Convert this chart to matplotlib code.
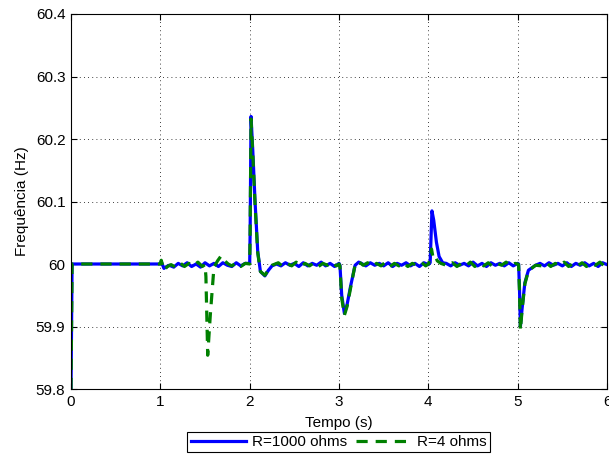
import matplotlib.pyplot as plt

plt.rcParams['font.family'] = ['Liberation Sans', 'DejaVu Sans']
plt.rcParams['font.size'] = 11

# R = 1000 ohms (blue, solid)
t_r1000 = [0.000, 0.012, 1.000, 1.010, 1.040, 1.070,
           1.10, 1.15, 1.20, 1.25, 1.30, 1.35, 1.40, 1.45, 1.50, 1.55,
           1.60, 1.65, 1.70, 1.75, 1.80, 1.85, 1.90, 1.95, 2.000,
           2.005, 2.015, 2.035, 2.060, 2.090, 2.120, 2.170, 2.210, 2.250,
           2.30, 2.35, 2.40, 2.45, 2.50, 2.55, 2.60, 2.65, 2.70, 2.75,
           2.80, 2.85, 2.90, 2.95, 3.00,
           3.010, 3.030, 3.060, 3.090, 3.130, 3.180, 3.220,
           3.25, 3.30, 3.35, 3.40, 3.45, 3.50, 3.55, 3.60, 3.65, 3.70,
           3.75, 3.80, 3.85, 3.90, 3.95, 4.00,
           4.020, 4.040, 4.060, 4.090, 4.120, 4.160,
           4.20, 4.25, 4.30, 4.35, 4.40, 4.45, 4.50, 4.55, 4.60, 4.65,
           4.70, 4.75, 4.80, 4.85, 4.90, 4.95, 5.00,
           5.010, 5.020, 5.030, 5.050, 5.080, 5.120, 5.200,
           5.25, 5.30, 5.35, 5.40, 5.45, 5.50, 5.55, 5.60, 5.65, 5.70,
           5.75, 5.80, 5.85, 5.90, 5.95, 6.00]
f_r1000 = [59.800, 60.000, 60.000, 60.004, 59.993, 59.996,
           59.998, 59.995, 60.001, 59.997, 60.002, 59.996, 60.000, 59.995, 60.002, 59.997,
           60.001, 59.996, 60.002, 59.998, 59.996, 60.002, 59.997, 60.001, 60.001,
           60.050, 60.236, 60.180, 60.100, 60.020, 59.988, 59.981, 59.990, 59.997,
           60.000, 59.997, 60.002, 59.998, 60.001, 59.996, 60.002, 59.997, 60.001, 59.998,
           60.003, 59.997, 60.001, 59.996, 60.001,
           59.998, 59.950, 59.921, 59.935, 59.965, 59.998, 60.003,
           60.001, 59.997, 60.002, 59.998, 60.001, 59.997, 60.002, 59.996, 60.001, 59.998,
           60.002, 59.997, 60.001, 59.996, 60.002, 59.999,
           60.002, 60.085, 60.070, 60.035, 60.012, 60.002,
           60.001, 59.997, 60.002, 59.998, 60.001, 59.997, 60.003, 59.997, 60.001, 59.996,
           60.002, 59.998, 60.001, 59.997, 60.002, 59.997, 60.001,
           60.000, 59.960, 59.900, 59.930, 59.970, 59.990, 59.998,
           60.001, 59.997, 60.002, 59.998, 60.001, 59.997, 60.002, 59.996, 60.001, 59.998,
           60.002, 59.997, 60.001, 59.996, 60.002, 59.999]

# R = 4 ohms (green, dashed)
t_r4 = [0.000, 0.012, 1.000, 1.010, 1.040, 1.080,
        1.12, 1.17, 1.22, 1.27, 1.32, 1.37, 1.42, 1.47, 1.500,
        1.510, 1.530, 1.560, 1.600, 1.640, 1.680, 1.720, 1.760,
        1.80, 1.85, 1.90, 1.95, 2.000,
        2.005, 2.015, 2.035, 2.060, 2.090, 2.120, 2.170, 2.210, 2.250,
        2.32, 2.37, 2.42, 2.47, 2.52, 2.57, 2.62, 2.67, 2.72, 2.77,
        2.82, 2.87, 2.92, 2.97, 3.00,
        3.010, 3.030, 3.060, 3.090, 3.130, 3.180, 3.220,
        3.27, 3.32, 3.37, 3.42, 3.47, 3.52, 3.57, 3.62, 3.67, 3.72,
        3.77, 3.82, 3.87, 3.92, 3.97, 4.00,
        4.020, 4.035, 4.050, 4.070, 4.100, 4.140,
        4.22, 4.27, 4.32, 4.37, 4.42, 4.47, 4.52, 4.57, 4.62, 4.67,
        4.72, 4.77, 4.82, 4.87, 4.92, 4.97, 5.00,
        5.010, 5.020, 5.030, 5.050, 5.080, 5.120, 5.200,
        5.27, 5.32, 5.37, 5.42, 5.47, 5.52, 5.57, 5.62, 5.67, 5.72,
        5.77, 5.82, 5.87, 5.92, 5.97, 6.00]
f_r4 = [59.800, 60.000, 60.000, 60.006, 59.990, 59.996,
        59.999, 59.995, 60.002, 59.996, 60.001, 59.997, 60.003, 59.996, 59.999,
        59.980, 59.854, 59.920, 59.995, 60.005, 60.013, 60.005, 60.000,
        59.997, 60.002, 59.996, 60.001, 60.000,
        60.050, 60.232, 60.175, 60.095, 60.018, 59.988, 59.982, 59.991, 59.998,
        60.002, 59.996, 60.001, 59.997, 60.003, 59.996, 60.001, 59.997, 60.002, 59.996,
        60.001, 59.998, 60.003, 59.997, 60.000,
        59.997, 59.945, 59.918, 59.932, 59.962, 59.999, 60.004,
        59.998, 60.002, 59.996, 60.001, 59.997, 60.003, 59.996, 60.001, 59.997, 60.002,
        59.996, 60.001, 59.998, 60.003, 59.997, 60.000,
        60.008, 60.024, 60.012, 60.015, 60.005, 60.001,
        59.997, 60.002, 59.996, 60.001, 59.997, 60.003, 59.996, 60.001, 59.997, 60.002,
        59.996, 60.001, 59.998, 60.003, 59.997, 60.001, 60.000,
        59.999, 59.955, 59.894, 59.928, 59.968, 59.989, 59.998,
        59.997, 60.002, 59.996, 60.001, 59.997, 60.003, 59.996, 60.001, 59.997, 60.002,
        59.996, 60.001, 59.998, 60.003, 59.997, 60.000]

x_ticks = [0, 1, 2, 3, 4, 5, 6]
y_ticks = [59.8, 59.9, 60.0, 60.1, 60.2, 60.3, 60.4]
y_labels = ['59.8', '59.9', '60', '60.1', '60.2', '60.3', '60.4']

fig = plt.figure(figsize=(6.09, 4.59), dpi=100)
ax = fig.add_axes([0.1166, 0.1525, 0.8802, 0.817])

ax.plot(t_r1000, f_r1000, '-', color=(0, 0, 1), lw=2.3, label='R=1000 ohms')
ax.plot(t_r4, f_r4, '--', color=(0, 0.5, 0), lw=2.3, dashes=(3.5, 2.5), label='R=4 ohms')

ax.set_xlim(0, 6)
ax.set_ylim(59.8, 60.4)
ax.set_xticks(x_ticks)
ax.set_yticks(y_ticks)
ax.set_yticklabels(y_labels)
ax.tick_params(direction='in', length=4, top=True, right=True, colors='black', pad=4)
ax.grid(True, linestyle=(0, (1, 4)), color='black', linewidth=0.6)

ax.set_xlabel('Tempo (s)', labelpad=5)
ax.set_ylabel('Frequência (Hz)', labelpad=5)

leg = fig.legend(loc='center', bbox_to_anchor=(0.556, 0.037), ncol=2,
                 fancybox=False, edgecolor='black', framealpha=1,
                 handlelength=3.6, columnspacing=0.6, handletextpad=0.4,
                 borderpad=0.2)
leg.get_frame().set_linewidth(0.8)

fig.savefig('out.png', dpi=100)
